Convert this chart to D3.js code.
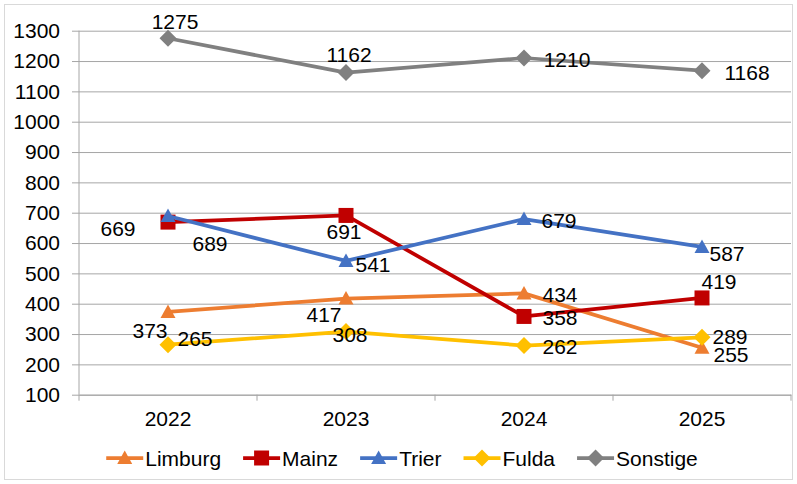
<!DOCTYPE html>
<html>
<head>
<meta charset="utf-8">
<script src="https://cdn.jsdelivr.net/npm/d3@7"></script>
<style>
  html, body { margin: 0; padding: 0; background: #fff; }
  svg { display: block; font-family: Arial, "Liberation Sans", sans-serif; }
</style>
</head>
<body>
<div id="chart"></div>
<script>
// Daten
const jahre = ['2022', '2023', '2024', '2025'];
const limburg = [373, 417, 434, 255];
const mainz = [669, 691, 358, 419];
const trier = [689, 541, 679, 587];
const fulda = [265, 308, 262, 289];
const sonstige = [1275, 1162, 1210, 1168];
const yTicks = [100, 200, 300, 400, 500, 600, 700, 800, 900, 1000, 1100, 1200, 1300];

// Reihen (Reihenfolge = Zeichenreihenfolge)
const reihen = [
  { name: 'Limburg', werte: limburg, farbe: '#ED7D31', marker: 'dreieck' },
  { name: 'Mainz', werte: mainz, farbe: '#C00000', marker: 'quadrat' },
  { name: 'Trier', werte: trier, farbe: '#4472C4', marker: 'dreieck' },
  { name: 'Fulda', werte: fulda, farbe: '#FFC000', marker: 'raute' },
  { name: 'Sonstige', werte: sonstige, farbe: '#808080', marker: 'raute' }
];

// Lage der Datenbeschriftungen (Versatz zum Punkt, wie im Original)
const beschriftungVersatz = {
  Limburg: [[-18, 19], [-22, 16], [36, 1], [29, 7]],
  Mainz: [[-50, 6], [-2, 16], [36, 1], [17, -16]],
  Trier: [[42, 27], [27, 4], [35, 1], [25, 6]],
  Fulda: [[27, -6], [4, 3], [36, 1], [28, -1]],
  Sonstige: [[7, -17], [3, -18], [43, 1], [45, 2]]
};

const width = 797, height = 484;
const plot = { left: 79, right: 791, top: 30.7, bottom: 394.7 };
const schrift = 21;
const gitterFarbe = '#a6a6a6';

const svg = d3.select('#chart').append('svg')
  .attr('width', width)
  .attr('height', height);

// Rahmen
svg.append('rect')
  .attr('x', 4.5).attr('y', 4.5)
  .attr('width', width - 9).attr('height', height - 9)
  .attr('fill', '#fff')
  .attr('stroke', '#d9d9d9');

const x = d3.scaleBand().domain(jahre).range([plot.left, plot.right]).padding(0);
const y = d3.scaleLinear().domain([100, 1300]).range([plot.bottom, plot.top]);
const xm = d => x(d) + x.bandwidth() / 2;

// y-Achse mit Gitterlinien
const yAchse = svg.append('g')
  .attr('transform', `translate(${plot.left},0)`)
  .call(d3.axisLeft(y).tickValues(yTicks).tickFormat(d3.format('d'))
    .tickSize(-(plot.right - plot.left)).tickSizeOuter(0).tickPadding(19));
yAchse.select('.domain').remove();
yAchse.selectAll('.tick line')
  .attr('x1', -7)
  .attr('stroke', gitterFarbe)
  .attr('stroke-width', 1);
yAchse.selectAll('.tick text')
  .attr('font-size', schrift)
  .attr('font-family', 'Arial, "Liberation Sans", sans-serif')
  .attr('fill', '#000');

// senkrechte Achsenlinie
svg.append('line')
  .attr('x1', plot.left).attr('x2', plot.left)
  .attr('y1', plot.top).attr('y2', plot.bottom)
  .attr('stroke', gitterFarbe);

// x-Achse: Teilstriche an den Kategoriegrenzen
const xAchse = svg.append('g')
  .attr('transform', `translate(0,${plot.bottom})`)
  .call(d3.axisBottom(x).tickSize(0).tickPadding(16));
xAchse.select('.domain').attr('stroke', gitterFarbe);
xAchse.selectAll('.tick text')
  .attr('font-size', schrift)
  .attr('font-family', 'Arial, "Liberation Sans", sans-serif')
  .attr('fill', '#000');
const grenzen = jahre.map(j => x(j)).concat([x(jahre[jahre.length - 1]) + x.bandwidth()]);
svg.append('g').selectAll('line').data(grenzen).enter().append('line')
  .attr('x1', d => d).attr('x2', d => d)
  .attr('y1', plot.bottom).attr('y2', plot.bottom + 6)
  .attr('stroke', gitterFarbe);

// Marker-Pfade
function markerPfad(typ) {
  if (typ === 'dreieck') return 'M0,-7.5L7.5,6L-7.5,6Z';
  if (typ === 'quadrat') return 'M-7.5,-7.5H7.5V7.5H-7.5Z';
  return 'M0,-8.5L8.5,0L0,8.5L-8.5,0Z';
}

const linie = d3.line().x((d, i) => xm(jahre[i])).y(d => y(d));

// Linien und Marker
reihen.forEach(r => {
  const g = svg.append('g').attr('class', 'reihe');
  g.append('path')
    .datum(r.werte)
    .attr('d', linie)
    .attr('fill', 'none')
    .attr('stroke', r.farbe)
    .attr('stroke-width', 3.75)
    .attr('stroke-linejoin', 'round');
  g.selectAll('path.marker').data(r.werte).enter().append('path')
    .attr('class', 'marker')
    .attr('d', markerPfad(r.marker))
    .attr('transform', (d, i) => `translate(${xm(jahre[i])},${y(d)})`)
    .attr('fill', r.farbe);
});

// Datenbeschriftungen
reihen.forEach(r => {
  svg.append('g').selectAll('text').data(r.werte).enter().append('text')
    .attr('x', (d, i) => xm(jahre[i]) + beschriftungVersatz[r.name][i][0])
    .attr('y', (d, i) => y(d) + beschriftungVersatz[r.name][i][1])
    .attr('dy', '0.36em')
    .attr('text-anchor', 'middle')
    .attr('font-size', schrift)
    .attr('fill', '#000')
    .text(d => d);
});

// Legende
const legende = svg.append('g');
const linienLaenge = 37, abstand = 22;
let lx = 0;
reihen.forEach(r => {
  const e = legende.append('g');
  e.append('line')
    .attr('x1', 0).attr('x2', linienLaenge)
    .attr('y1', 0).attr('y2', 0)
    .attr('stroke', r.farbe)
    .attr('stroke-width', 3.75);
  e.append('path')
    .attr('d', markerPfad(r.marker))
    .attr('transform', `translate(${linienLaenge / 2},0)`)
    .attr('fill', r.farbe);
  const t = e.append('text')
    .attr('x', linienLaenge + 2)
    .attr('dy', '0.36em')
    .attr('font-size', schrift)
    .attr('fill', '#000')
    .text(r.name);
  const w = linienLaenge + 2 + t.node().getComputedTextLength();
  e.attr('transform', `translate(${lx},0)`);
  lx += w + abstand;
});
const gesamt = lx - abstand;
legende.attr('transform', `translate(${402 - gesamt / 2},458)`);
</script>
</body>
</html>
